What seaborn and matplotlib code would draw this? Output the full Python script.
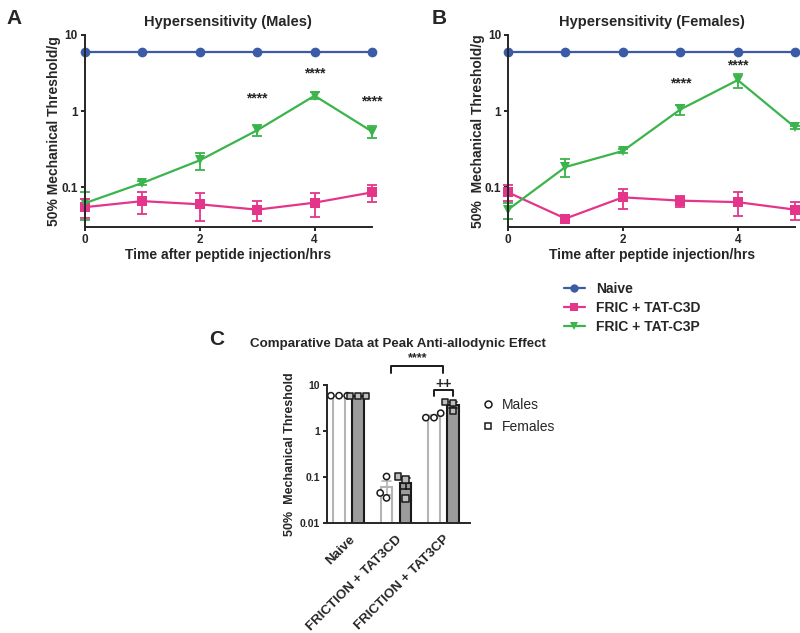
import numpy as np
import pandas as pd
import matplotlib.pyplot as plt
import seaborn as sns
from matplotlib.lines import Line2D
from matplotlib.collections import PathCollection

# time course data (mean, sem)
hours = [0, 1, 2, 3, 4, 5]
groups = ["Naive", "FRIC + TAT-C3D", "FRIC + TAT-C3P"]

naive_m = [6.0, 6.0, 6.0, 6.0, 6.0, 6.0]
naive_m_err = [0.0, 0.0, 0.0, 0.0, 0.0, 0.0]
c3d_m = [0.055, 0.066, 0.060, 0.051, 0.063, 0.086]
c3d_m_err = [0.015, 0.021, 0.024, 0.015, 0.022, 0.021]
c3p_m = [0.062, 0.114, 0.226, 0.56, 1.59, 0.54]
c3p_m_err = [0.025, 0.006, 0.055, 0.095, 0.17, 0.09]

naive_f = [6.0, 6.0, 6.0, 6.0, 6.0, 6.0]
naive_f_err = [0.0, 0.0, 0.0, 0.0, 0.0, 0.0]
c3d_f = [0.086, 0.039, 0.074, 0.067, 0.064, 0.051]
c3d_f_err = [0.020, 0.002, 0.022, 0.011, 0.022, 0.014]
c3p_f = [0.051, 0.185, 0.30, 1.05, 2.55, 0.61]
c3p_f_err = [0.012, 0.048, 0.015, 0.17, 0.55, 0.03]

star_hours = [3, 4, 5]
stars_m_y = [1.45, 3.1, 1.33]
stars_f_y = [2.3, 4.0, 1.37]
stars_f_shift = [0, 0, 12]  # last one sits partly outside the crop

# peak comparison (individual animals)
peak_groups = ["Naive", "FRICTION + TAT3CD", "FRICTION + TAT3CP"]
sexes = ["Males", "Females"]
peak_males = [[6.0, 6.0, 6.0], [0.105, 0.036, 0.046], [2.5, 2.0, 2.0]]
peak_females = [[6.0, 6.0, 6.0], [0.105, 0.09, 0.035], [4.4, 4.2, 2.8]]

colors = {"Naive": "#3b5ba7", "FRIC + TAT-C3D": "#e5358a", "FRIC + TAT-C3P": "#3ab44b"}
markers = {"Naive": "o", "FRIC + TAT-C3D": "s", "FRIC + TAT-C3P": "v"}

sns.set_style("ticks")
plt.rcParams["font.family"] = ["Liberation Sans", "DejaVu Sans"]
plt.rcParams["font.weight"] = "bold"
plt.rcParams["axes.linewidth"] = 1.4

fig = plt.figure(figsize=(8, 6.33), dpi=100)
ax_a = fig.add_axes([0.106, 0.641, 0.359, 0.304])
ax_b = fig.add_axes([0.635, 0.641, 0.359, 0.304])
ax_c = fig.add_axes([0.409, 0.173, 0.178, 0.218])


def time_course(ax, means, errs, stars_y, shifts, title, ylabel):
    df = pd.DataFrame({
        "hour": hours * 3,
        "value": means[0] + means[1] + means[2],
        "group": [g for g in groups for _ in hours],
    })
    ax.set_yscale("log")
    sns.lineplot(data=df, x="hour", y="value", hue="group", style="group",
                 palette=colors, markers=markers, dashes=False, markersize=7,
                 markeredgewidth=0, linewidth=1.6, legend=False, ax=ax)
    for g, m, e in zip(groups, means, errs):
        if max(e) > 0:
            ax.errorbar(hours, m, yerr=e, fmt="none", ecolor=colors[g],
                        elinewidth=1.3, capsize=3.5, capthick=1.3, clip_on=False)
    for ln in ax.lines:
        ln.set_clip_on(False)
    for h, y, dx in zip(star_hours, stars_y, shifts):
        ax.annotate("****", (h, y), xytext=(dx, 0), textcoords="offset points",
                    ha="center", va="center", fontsize=10, fontweight="bold",
                    annotation_clip=False)
    ax.set_xlim(0, 5)
    ax.set_ylim(0.03, 10)
    ax.set_xticks([0, 2, 4])
    ax.set_yticks([0.1, 1, 10])
    ax.set_yticklabels(["0.1", "1", "10"])
    ax.yaxis.set_minor_locator(plt.NullLocator())
    ax.tick_params(labelsize=8.5, width=1.4, length=3, pad=2)
    ax.set_title(title, fontsize=10.5, fontweight="bold", pad=6)
    ax.set_xlabel("Time after peptide injection/hrs", fontsize=10, fontweight="bold", labelpad=1)
    ax.set_ylabel(ylabel, fontsize=10, fontweight="bold", labelpad=0)
    sns.despine(ax=ax)


time_course(ax_a, [naive_m, c3d_m, c3p_m], [naive_m_err, c3d_m_err, c3p_m_err],
            stars_m_y, [0, 0, 0], "Hypersensitivity (Males)", "50% Mechanical Threshold/g")
time_course(ax_b, [naive_f, c3d_f, c3p_f], [naive_f_err, c3d_f_err, c3p_f_err],
            stars_f_y, stars_f_shift, "Hypersensitivity (Females)", "50%  Mechanical Threshold/g")

fig.text(0.008, 0.985, "A", fontsize=15, fontweight="bold", va="top")
fig.text(0.540, 0.985, "B", fontsize=15, fontweight="bold", va="top")
fig.text(0.261, 0.479, "C", fontsize=15, fontweight="bold", va="top")

handles = [Line2D([], [], color=colors[g], marker=markers[g], markersize=6,
                  markeredgewidth=0, linewidth=1.6) for g in groups]
fig.legend(handles, groups, loc="upper left", bbox_to_anchor=(0.696, 0.565),
           frameon=False, handlelength=1.5, handletextpad=0.8,
           labelspacing=0.35, borderpad=0, prop={"weight": "bold", "size": 10})

# panel C
rows = []
for sex, vals in (("Males", peak_males), ("Females", peak_females)):
    for grp, pts in zip(peak_groups, vals):
        for v in pts:
            rows.append({"group": grp, "sex": sex, "value": v})
peak = pd.DataFrame(rows)

bar_face = {"Males": "white", "Females": "#9b9b9b"}
bar_edge = {"Males": "#b4b4b4", "Females": "#1a1a1a"}
sns.barplot(data=peak, x="group", y="value", hue="sex",
            order=peak_groups, hue_order=sexes, palette=bar_face,
            width=0.8, gap=0.4, errorbar="se", capsize=0.35,
            err_kws={"linewidth": 1.2}, linewidth=1.5, legend=False, ax=ax_c)


def side_of(x):
    # males sit left of the group centre, females right
    return "Males" if x < round(x) else "Females"


for p in ax_c.patches:
    p.set_edgecolor(bar_edge[side_of(p.get_x() + p.get_width() / 2)])
for ln in ax_c.lines:
    xd = np.asarray(ln.get_xdata(), dtype=float)
    xd = xd[np.isfinite(xd)]
    if len(xd):
        ln.set_color(bar_edge[side_of(xd.mean())])

ax_c.set_yscale("log")
ax_c.set_ylim(0.01, 10)
pt_marker = {"Males": "o", "Females": "s"}
for sex in sexes:
    sns.swarmplot(data=peak[peak.sex == sex], x="group", y="value", hue="sex",
                  order=peak_groups, hue_order=sexes, dodge=True,
                  palette={"Males": "white", "Females": "#bdbdbd"},
                  marker=pt_marker[sex], size=4.5, edgecolor="#1a1a1a",
                  linewidth=1.1, legend=False, ax=ax_c)
for coll in ax_c.collections:
    if isinstance(coll, PathCollection) and len(coll.get_offsets()):
        coll.set_clip_on(False)
ax_c.set_xlim(-0.45, 2.55)
ax_c.set_yticks([0.01, 0.1, 1, 10])
ax_c.set_yticklabels(["0.01", "0.1", "1", "10"])
ax_c.yaxis.set_minor_locator(plt.NullLocator())
ax_c.tick_params(axis="y", labelsize=7.5, width=1.4, length=3, pad=2)
ax_c.tick_params(axis="x", length=0, labelsize=9.6, pad=7)
plt.setp(ax_c.get_xticklabels(), rotation=45, ha="right", rotation_mode="anchor")
ax_c.set_xlabel("")
ax_c.set_ylabel("50%  Mechanical Threshold", fontsize=9, fontweight="bold", labelpad=3)
ax_c.set_title("Comparative Data at Peak Anti-allodynic Effect", fontsize=9.6,
               fontweight="bold", pad=28)
sns.despine(ax=ax_c)

# significance brackets
kw = dict(color="#1a1a1a", linewidth=1.4, clip_on=False)
ax_c.plot([0.9, 0.9, 2.0, 2.0], [19, 26, 26, 19], **kw)
ax_c.text(1.45, 40, "****", ha="center", va="center", fontsize=9, clip_on=False)
ax_c.plot([1.8, 1.8, 2.2, 2.2], [5.8, 7.8, 7.8, 5.8], **kw)
ax_c.text(2.0, 11, "++", ha="center", va="center", fontsize=10, clip_on=False)

leg_handles = [Line2D([], [], linestyle="none", marker="o", markersize=5,
                      markerfacecolor="white", markeredgecolor="#1a1a1a", markeredgewidth=1.1),
               Line2D([], [], linestyle="none", marker="s", markersize=5,
                      markerfacecolor="white", markeredgecolor="#1a1a1a", markeredgewidth=1.1)]
ax_c.legend(leg_handles, sexes, loc="upper left", bbox_to_anchor=(1.03, 0.96),
            frameon=False, handlelength=1.0, handletextpad=0.5, labelspacing=0.6,
            borderpad=0, prop={"weight": "normal", "size": 10})

fig.savefig("out.png", dpi=100)
